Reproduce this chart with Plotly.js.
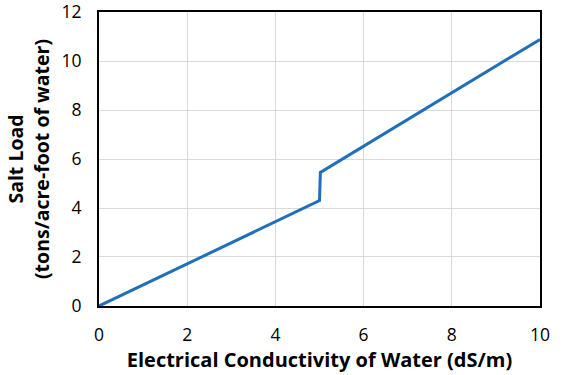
<!DOCTYPE html>
<html><head><meta charset="utf-8">
<script src="https://cdn.plot.ly/plotly-3.0.1.min.js"></script>
<style>html,body{margin:0;padding:0;background:#fff}</style>
</head><body>
<div id="chart" style="width:562px;height:375px"></div>
<script>
const ecValues = [0, 5, 5.02, 10];
const saltLoad = [0, 4.3, 5.45, 10.88];
const xTicks = [0, 2, 4, 6, 8, 10];
const yTicks = [0, 2, 4, 6, 8, 10, 12];

const trace = {
  x: ecValues, y: saltLoad, type: 'scatter', mode: 'lines',
  line: {color: '#1f70b8', width: 3}, hoverinfo: 'skip', cliponaxis: false
};
const font = {family: '"Open Sans", "Noto Sans", sans-serif', color: '#000'};
const layout = {
  width: 562, height: 375,
  margin: {l: 99, r: 22, t: 12, b: 69},
  paper_bgcolor: '#fff', plot_bgcolor: '#fff',
  showlegend: false,
  font: font,
  xaxis: {
    range: [-0.0005, 10.0005], tickvals: xTicks, ticktext: xTicks.map(String),
    showgrid: true, gridcolor: '#d9d9d9', gridwidth: 1,
    showline: true, linecolor: '#000', linewidth: 2, mirror: true,
    zeroline: false, ticks: '', ticklabelstandoff: 12, ticklabeloverflow: 'allow',
    tickfont: {size: 17.5, family: font.family, color: '#000'},
    title: {text: '<b>Electrical Conductivity of Water (dS/m)</b>', standoff: 3,
      font: {size: 20, family: font.family, color: '#000'}}
  },
  yaxis: {
    range: [-0.0005, 12.0005], tickvals: yTicks, ticktext: yTicks.map(String),
    showgrid: true, gridcolor: '#d9d9d9', gridwidth: 1,
    showline: true, linecolor: '#000', linewidth: 2, mirror: true,
    zeroline: false, ticks: '', ticklabelstandoff: 12, ticklabeloverflow: 'allow',
    tickfont: {size: 17.5, family: font.family, color: '#000'},
    title: {text: '<b>Salt Load</b><br><b>(tons/acre-foot of water)</b>', standoff: 7,
      font: {size: 19.5, family: font.family, color: '#000'}}
  }
};
Plotly.newPlot('chart', [trace], layout, {displayModeBar: false, staticPlot: true});
</script>
</body></html>
